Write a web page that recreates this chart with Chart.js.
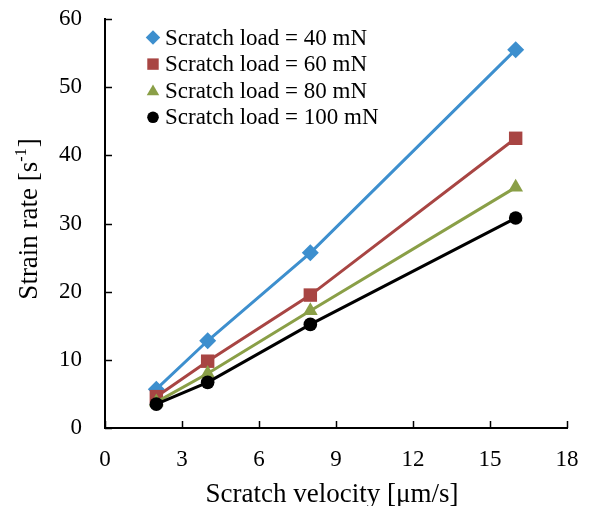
<!DOCTYPE html>
<html><head><meta charset="utf-8">
<script src="https://cdn.jsdelivr.net/npm/chart.js@4/dist/chart.umd.min.js"></script>
<style>html,body{margin:0;padding:0;background:#fff}#wrap{width:594px;height:506px}</style>
</head><body><div id="wrap"><canvas id="c" width="594" height="506"></canvas></div>
<script>
const velocities = [2, 4, 8, 16];
const seriesNames = ["Scratch load = 40 mN", "Scratch load = 60 mN", "Scratch load = 80 mN", "Scratch load = 100 mN"];
const load40 = [5.7, 12.8, 25.7, 55.5];
const load60 = [4.6, 9.8, 19.5, 42.5];
const load80 = [3.8, 8.0, 17.2, 35.3];
const load100 = [3.5, 6.7, 15.2, 30.8];
const xTicks = [0, 3, 6, 9, 12, 15, 18];
const yTicks = [0, 10, 20, 30, 40, 50, 60];
const xTitle = "Scratch velocity [\u03bcm/s]";
const yTitle = "Strain rate [s";
const yTitleSup = "-1";

const colors = ["#3D8FCE", "#A84543", "#8A9F47", "#000000"];
const styles = ["rectRot", "rect", "triangle", "circle"];
const radii = [8.5, 9.5, 8.5, 6.8];
const allVals = [load40, load60, load80, load100];
const FONT = "'Liberation Serif', 'Times New Roman', serif";

const datasets = allVals.map((vals, i) => ({
  label: seriesNames[i],
  data: velocities.map((v, j) => ({x: v, y: vals[j]})),
  showLine: true,
  borderColor: colors[i],
  backgroundColor: colors[i],
  borderWidth: 3,
  pointStyle: styles[i],
  pointRadius: radii[i],
  pointBorderWidth: 0,
  pointHoverRadius: radii[i],
  order: 3 - i
}));

const decor = {
  id: 'decor',
  afterDraw(chart) {
    const ctx = chart.ctx;
    const xs = chart.scales.x, ys = chart.scales.y;
    ctx.save();
    // inward tick marks
    ctx.strokeStyle = '#000'; ctx.lineWidth = 1.5;
    xTicks.forEach(t => {
      const px = Math.round(xs.getPixelForValue(t)) + 0.5;
      ctx.beginPath(); ctx.moveTo(px, ys.bottom); ctx.lineTo(px, ys.bottom - 7); ctx.stroke();
    });
    yTicks.forEach(t => {
      const py = Math.round(ys.getPixelForValue(t)) + 0.5;
      ctx.beginPath(); ctx.moveTo(xs.left, py); ctx.lineTo(xs.left + 7, py); ctx.stroke();
    });
    // legend
    ctx.font = "23px " + FONT;
    ctx.textBaseline = 'middle';
    datasets.forEach((d, i) => {
      const y = 37.5 + i * 26.6;
      ctx.fillStyle = colors[i];
      Chart.helpers.drawPoint(ctx, {pointStyle: styles[i], radius: radii[i] * 0.85, borderWidth: 0}, 153, i === 2 ? y + 1 : y);
      ctx.fillStyle = '#000';
      ctx.fillText(d.label, 165, y + 1);
    });
    // axis titles
    ctx.fillStyle = '#000';
    ctx.font = "27px " + FONT;
    ctx.textAlign = 'center';
    ctx.textBaseline = 'alphabetic';
    ctx.fillText(xTitle, 332, 502);
    ctx.translate(37, 219);
    ctx.rotate(-Math.PI / 2);
    const w1 = ctx.measureText(yTitle).width;
    ctx.font = "16px " + FONT;
    const w2 = ctx.measureText(yTitleSup).width;
    ctx.font = "27px " + FONT;
    const w3 = ctx.measureText("]").width;
    const total = w1 + w2 + w3 + 1;
    ctx.textAlign = 'left';
    ctx.fillText(yTitle, -total / 2, 0);
    ctx.font = "16px " + FONT;
    ctx.fillText(yTitleSup, -total / 2 + w1, -11);
    ctx.font = "27px " + FONT;
    ctx.fillText("]", -total / 2 + w1 + w2 + 1, 0);
    ctx.restore();
  }
};

const zeroPad = s => { s.paddingTop = 0; s.paddingBottom = 0; s.paddingLeft = 0; s.paddingRight = 0; };

new Chart(document.getElementById('c'), {
  type: 'scatter',
  data: {datasets},
  options: {
    responsive: false,
    animation: false,
    devicePixelRatio: 1,
    layout: {padding: {left: 0, right: 27, top: 19, bottom: 0}},
    plugins: {legend: {display: false}, tooltip: {enabled: false}},
    scales: {
      x: {
        type: 'linear', min: 0, max: 18,
        afterBuildTicks: s => { s.ticks = xTicks.map(v => ({value: v})); },
        afterFit: s => { s.height = 78; zeroPad(s); },
        grid: {display: false, drawTicks: false},
        border: {display: true, color: '#000', width: 2},
        ticks: {color: '#000', font: {family: FONT, size: 23}, padding: 18, maxRotation: 0}
      },
      y: {
        type: 'linear', min: 0, max: 60,
        afterBuildTicks: s => { s.ticks = yTicks.map(v => ({value: v})); },
        afterFit: s => { s.width = 105; zeroPad(s); },
        grid: {display: false, drawTicks: false},
        border: {display: true, color: '#000', width: 2},
        ticks: {color: '#000', font: {family: FONT, size: 23}, padding: 23}
      }
    }
  },
  plugins: [decor]
});
</script></body></html>
